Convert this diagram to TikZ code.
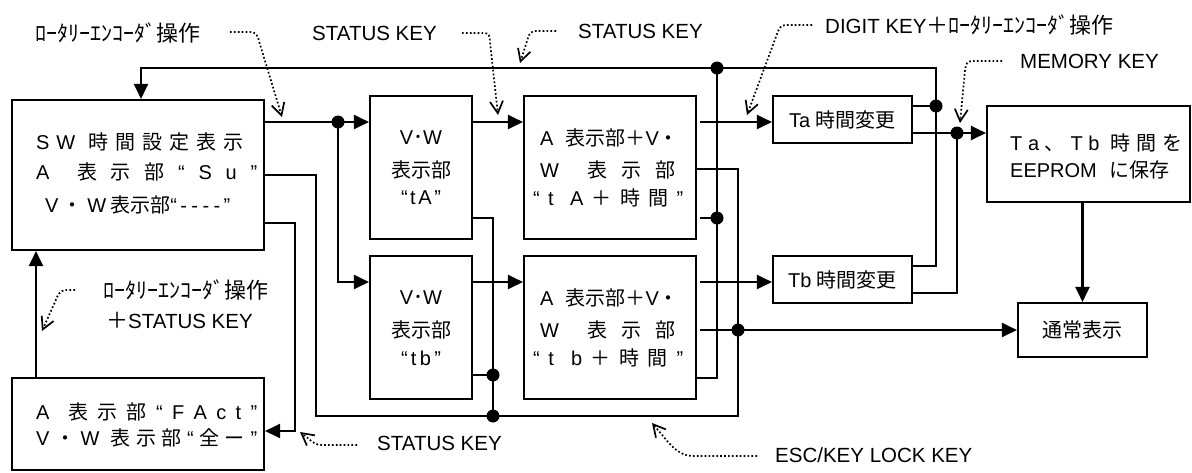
\documentclass[tikz,border=0pt]{standalone}
\usepackage{fontspec}
\setmainfont{Liberation Sans}
\newfontfamily\jp{Noto Sans CJK JP}
\newcommand\J[1]{{\jp #1}}
\newcommand\JA[1]{{\fontsize{22}{26}\selectfont\jp #1}}
\usetikzlibrary{arrows.meta}
\begin{document}
\begin{tikzpicture}[x=1pt,y=-1pt,
  box/.style={draw,line width=2.1pt,inner sep=0pt},
  wire/.style={line width=2.1pt},
  arr/.style={wire,-{Triangle[length=15pt,width=14pt]}},
  txt/.style={inner sep=0pt,font=\fontsize{20}{24}\selectfont},
  ann/.style={inner sep=0pt,font=\fontsize{20.5}{24}\selectfont},
  note/.style={line width=1.7pt,dash pattern=on 1.7pt off 2.2pt,
    -{Straight Barb[length=12pt,width=13pt,line width=1.7pt]}}]
\fill[white] (0,0) rectangle (1192,472);
\useasboundingbox (0,0) rectangle (1192,472);

% boxes
\node[box,minimum width=252pt,minimum height=150pt] (sw) at (138,175) {};
\node[box,minimum width=252pt,minimum height=92pt] (fact) at (138,424) {};
\node[box,minimum width=102pt,minimum height=143pt] (ta) at (421,167.5) {};
\node[box,minimum width=102pt,minimum height=143pt] (tb) at (421,327.5) {};
\node[box,minimum width=172pt,minimum height=143pt] (tat) at (610,167.5) {};
\node[box,minimum width=172pt,minimum height=143pt] (tbt) at (610,327.5) {};
\node[box,minimum width=139pt,minimum height=47pt] (tach) at (842.5,119.5) {};
\node[box,minimum width=139pt,minimum height=47pt] (tbch) at (842.5,279.5) {};
\node[box,minimum width=203pt,minimum height=96pt] (eep) at (1088.5,154) {};
\node[box,minimum width=129pt,minimum height=54pt] (norm) at (1082.5,330) {};

% box texts
\node[txt,anchor=west] (sw1) at (36,142) {\makebox[207pt][s]{S\hfill W\hfill\hfill\J{時}\hfill\J{間}\hfill\J{設}\hfill\J{定}\hfill\J{表}\hfill\J{示}}};
\node[txt,anchor=west] (sw2) at (36,172) {\makebox[221pt][s]{A\hfill\hfill\J{表}\hfill\J{示}\hfill\J{部}\hfill“\hfill S\hfill u\hfill ”}};
\node[txt,anchor=west] (sw3) at (45,205) {\makebox[185pt][s]{V\hfill\J{・}\hfill W\hfill\J{表示部}“\,-\hfill-\hfill-\hfill-\,”}};

\node[txt,anchor=west] (fa1) at (36,412) {\makebox[221pt][s]{A\hfill\hfill\J{表}\hfill\J{示}\hfill\J{部}\hfill“\hfill F\hfill A\hfill c\hfill t\hfill ”}};
\node[txt,anchor=west] (fa2) at (36,438) {\makebox[221pt][s]{V\hfill\J{・}\hfill W\hfill\hfill\J{表}\hfill\J{示}\hfill\J{部}\hfill“\hfill\J{全}\hfill\J{ー}\hfill”}};

\node[txt] (ta1) at (421,138) {V\J{･}W};
\node[txt] (ta2) at (421,170) {\J{表示部}};
\node[txt] (ta3) at (421,198) {\makebox[40pt][s]{“\hfill t\hfill A\hfill”}};
\node[txt] (tb1) at (421,298) {V\J{･}W};
\node[txt] (tb2) at (421,330) {\J{表示部}};
\node[txt] (tb3) at (421,358) {\makebox[40pt][s]{“\hfill t\hfill b\hfill”}};

\node[txt,anchor=west] (tat1) at (540,138) {A\hspace{12pt}\J{表示部＋}V\J{・}};
\node[txt,anchor=west] (tat2) at (540,170) {\makebox[135pt][s]{W\hfill\hfill\J{表}\hfill\J{示}\hfill\J{部}}};
\node[txt,anchor=west] (tat3) at (533,198) {\makebox[150pt][s]{“\hfill t\hfill\hfill A\hfill\J{＋}\hfill\J{時}\hfill\J{間}\hfill”}};
\node[txt,anchor=west] (tbt1) at (540,298) {A\hspace{12pt}\J{表示部＋}V\J{・}};
\node[txt,anchor=west] (tbt2) at (540,330) {\makebox[135pt][s]{W\hfill\hfill\J{表}\hfill\J{示}\hfill\J{部}}};
\node[txt,anchor=west] (tbt3) at (533,358) {\makebox[150pt][s]{“\hfill t\hfill\hfill b\hfill\J{＋}\hfill\J{時}\hfill\J{間}\hfill”}};

\node[txt] (tach1) at (842.5,120) {Ta \J{時間変更}};
\node[txt] (tbch1) at (842.5,280) {Tb \J{時間変更}};

\node[txt,anchor=west] (eep1) at (1010,143) {\makebox[172pt][s]{T\hfill a\hfill\J{、}\hfill T\hfill b\hfill\hfill\J{時}\hfill\J{間}\hfill\J{を}}};
\node[txt,anchor=west] (eep2) at (1010,170) {EEPROM\hspace{13pt}\J{に保存}};
\node[txt] (norm1) at (1082.5,330) {\J{通常表示}};

% annotations
\node[ann,anchor=west] (a1) at (35,33) {\JA{ﾛｰﾀﾘｰｴﾝｺｰﾀﾞ操作}};
\node[ann,anchor=west] (a2) at (312,33) {STATUS KEY};
\node[ann,anchor=west] (a3) at (578,31) {STATUS KEY};
\node[ann,anchor=west] (a4) at (825,25) {DIGIT KEY\JA{＋ﾛｰﾀﾘｰｴﾝｺｰﾀﾞ操作}};
\node[ann,anchor=west] (a5) at (1020,61) {MEMORY KEY};
\node[ann,anchor=west] (a6) at (103,290) {\JA{ﾛｰﾀﾘｰｴﾝｺｰﾀﾞ操作}};
\node[ann,anchor=west] (a7) at (106,320) {\JA{＋}STATUS KEY};
\node[ann,anchor=west] (a8) at (377,443) {STATUS KEY};
\node[ann,anchor=west] (a9) at (775,455) {ESC/KEY LOCK KEY};

% junctions
\coordinate (jTa) at (936,106);
\coordinate (top1) at (936,68);
\coordinate (jtop) at (717,68);
\coordinate (jmid) at (717,218);
\coordinate (jsw) at (338,122);
\coordinate (jm) at (957,133);
\coordinate (jn) at (738,330);
\coordinate (e1) at (316,416);
\coordinate (e2) at (738,416);
\coordinate (jb) at (493,416);
\coordinate (jtb) at (493,375);
\coordinate (k1) at (295,431);

% connectors
\draw[arr] ([yshift=53pt]sw.east) -- ([yshift=45.5pt]ta.west);
\draw[arr] (jsw) |- ([yshift=45.5pt]tb.west);
\draw[arr] ([yshift=45.5pt]ta.east) -- ([yshift=45.5pt]tat.west);
\draw[arr] ([yshift=45.5pt]tb.east) -- ([yshift=45.5pt]tbt.west);
\draw[arr] ([xshift=3pt,yshift=45.5pt]tat.east) -- ([yshift=-2.5pt]tach.west);
\draw[arr] ([xshift=3pt,yshift=45.5pt]tbt.east) -- ([yshift=-2.5pt]tbch.west);
\draw[arr] ([yshift=-13.5pt]tach.east) -- ([yshift=21pt]eep.west);
\draw[wire] ([yshift=-13.5pt]tbch.east) -| (jm);
\draw[wire] ([yshift=13.5pt]tach.east) -- (jTa);
\draw[arr] ([yshift=13.5pt]tbch.east) -| (top1) -| ([xshift=3pt]sw.north);
\draw[wire] ([xshift=3pt,yshift=-50.5pt]tat.east) -- (jmid);
\draw[wire] ([yshift=-50.5pt]tbt.east) -| (jtop);
\draw[wire] (sw.east) -| (e1) -- (e2) |- ([yshift=-1.5pt]tat.east);
\draw[arr] ([xshift=3pt,yshift=-2.5pt]tbt.east) -- (norm.west);
\draw[wire] ([yshift=-50.5pt]ta.east) -| (jb);
\draw[wire] ([yshift=-47.5pt]tb.east) -- (jtb);
\draw[arr] ([yshift=-48pt]sw.east) -| (k1) -- ([yshift=-7pt]fact.east);
\draw[arr] (norm.north |- eep.south) -- (norm.north);
\draw[arr] ([xshift=-102pt]fact.north) -- ([xshift=-102pt]sw.south);

\foreach \p in {jTa,jtop,jmid,jsw,jm,jn,jb,jtb} \fill (\p) circle (6.5pt);

% dotted pointers
\coordinate (n1s) at (230,32); \coordinate (n1t) at (282,117);
\draw[note] (n1s) -- (250,32) .. controls (256,32) and (258,36) .. (259,41) -- (n1t);
\coordinate (n2s) at (462,33); \coordinate (n2t) at (498,115);
\draw[note] (n2s) -- (484,33) .. controls (489,33) and (490,36) .. (490,42) -- (n2t);
\coordinate (n3s) at (556,31); \coordinate (n3t) at (520,63);
\draw[note] (n3s) -- (536,31) .. controls (531,31) and (529,34) .. (528,38) -- (n3t);
\coordinate (n4s) at (812,25); \coordinate (n4t) at (747,115);
\draw[note] (n4s) -- (786,25) .. controls (781,25) and (779,28) .. (777,34) -- (n4t);
\coordinate (n5s) at (1002,61); \coordinate (n5t) at (960,123);
\draw[note] (n5s) -- (972,61) .. controls (967,61) and (966,64) .. (965,70) -- (n5t);
\coordinate (n6s) at (75,290); \coordinate (n6t) at (42,331);
\draw[note] (n6s) -- (66,290) .. controls (60,290) and (57,296) .. (55,302) -- (n6t);
\coordinate (n7s) at (357,445); \coordinate (n7t) at (300,432);
\draw[note] (n7s) -- (322,445) .. controls (316,445) and (312,442) .. (309,439) -- (n7t);
\coordinate (n8s) at (757,456); \coordinate (n8t) at (652,423);
\draw[note] (n8s) -- (692,456) .. controls (680,456) and (670,445) .. (663,436) -- (n8t);
\end{tikzpicture}
\end{document}
